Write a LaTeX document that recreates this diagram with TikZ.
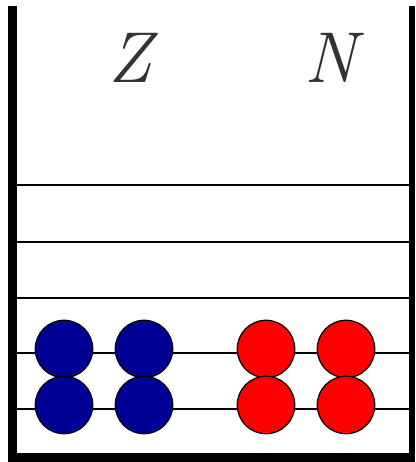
\documentclass[tikz,border=0pt]{standalone}
\usepackage{fontspec}
\usepackage{tikz}
\definecolor{protonblue}{RGB}{0,0,150}

\begin{document}
\begin{tikzpicture}[x=0.02cm, y=-0.02cm,
  level/.style={line width=1.1pt},
  proton/.style={circle, draw=black, line width=0.7pt, fill=protonblue,
                 minimum size=1.15cm, inner sep=0pt},
  neutron/.style={proton, fill=red},
  label/.style={font=\fontsize{41}{48}\selectfont\itshape, text=black!80}]

  \useasboundingbox (0,0) rectangle (415,462);

  % ---------- energy levels ----------
  \foreach \y in {185,242,298,353,409}{
    \draw[level] (16,\y) -- (411,\y);
  }

  % ---------- walls of the well ----------
  \draw[line width=5.1pt] (12.5,6) -- (12.5,462);
  \draw[line width=3.4pt] (412,6) -- (412,462);
  \draw[line width=4.6pt] (8,457.5) -- (415,457.5);

  % ---------- labels ----------
  \node[label] (zlab) at (130,58) {Z};
  \node[label] (nlab) at (331,58) {N};

  % ---------- nucleons ----------
  \foreach \i/\x in {1/64,2/144}{
    \node[proton] (p\i a) at (\x,349) {};
    \node[proton] (p\i b) at (\x,405) {};
  }
  \foreach \i/\x in {1/266,2/346}{
    \node[neutron] (n\i a) at (\x,349) {};
    \node[neutron] (n\i b) at (\x,405) {};
  }

\end{tikzpicture}
\end{document}
